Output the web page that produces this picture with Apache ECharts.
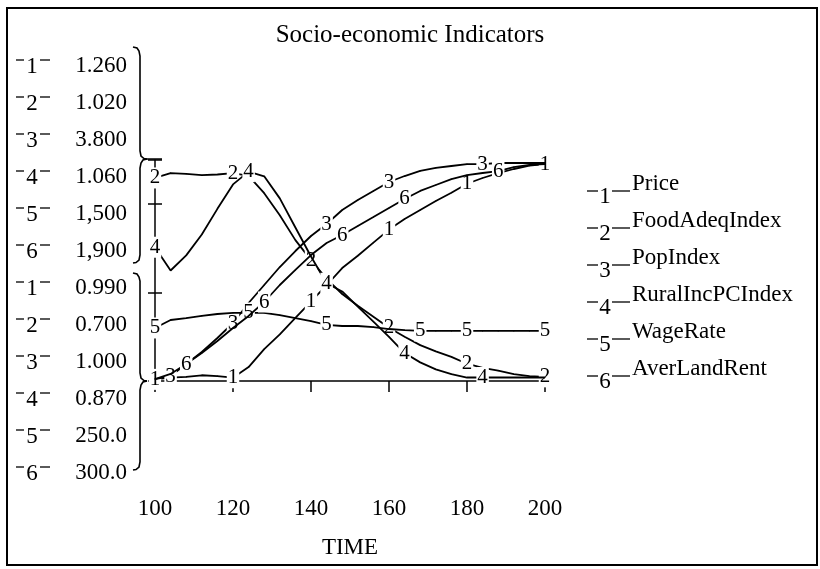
<!DOCTYPE html>
<html>
<head>
<meta charset="utf-8">
<title>Socio-economic Indicators</title>
<script src="https://cdn.jsdelivr.net/npm/echarts@6/dist/echarts.min.js"></script>
<style>
  html, body { margin: 0; padding: 0; background: #fff; }
  #chart { width: 820px; height: 569px; }
</style>
</head>
<body>
<div id="chart"></div>
<script>
// time axis (years), one reading every 4 years
const time = [100, 104, 108, 112, 116, 120, 124, 128, 132, 136, 140, 144, 148,
    152, 156, 160, 164, 168, 172, 176, 180, 184, 188, 192, 196, 200];

const names = ['Price', 'FoodAdeqIndex', 'PopIndex', 'RuralIncPCIndex', 'WageRate', 'AverLandRent'];

// each variable has its own scale (Vensim style)
const scaleMax = [1.26, 1.02, 3.8, 1.06, 1500, 1900];
const scaleMin = [0.99, 0.70, 1.0, 0.87, 250, 300];
const scaleTopText = ['1.260', '1.020', '3.800', '1.060', '1,500', '1,900'];
const scaleBottomText = ['0.990', '0.700', '1.000', '0.870', '250.0', '300.0'];

const price = [0.992, 0.994, 0.995, 0.997, 0.996, 0.994, 1.007, 1.029, 1.047, 1.067, 1.087, 1.107, 1.128,
    1.143, 1.159, 1.175, 1.188, 1.199, 1.210, 1.220, 1.231, 1.238, 1.244, 1.249, 1.253, 1.255];
const foodAdeqIndex = [0.994, 1.001, 1.000, 0.998, 0.999, 1.001, 0.997, 0.972, 0.940, 0.904, 0.875, 0.848, 0.826,
    0.809, 0.793, 0.777, 0.764, 0.752, 0.743, 0.735, 0.725, 0.719, 0.715, 0.710, 0.707, 0.706];
const popIndex = [1.025, 1.063, 1.215, 1.367, 1.545, 1.735, 1.988, 2.216, 2.444, 2.647, 2.837, 2.989, 3.167,
    3.293, 3.407, 3.521, 3.597, 3.661, 3.699, 3.724, 3.749, 3.749, 3.762, 3.762, 3.762, 3.762];
const ruralIncPCIndex = [0.985, 0.965, 0.978, 0.996, 1.018, 1.039, 1.050, 1.046, 1.027, 1.002, 0.977, 0.954, 0.947,
    0.934, 0.921, 0.908, 0.894, 0.886, 0.880, 0.876, 0.873, 0.873, 0.873, 0.873, 0.873, 0.873];
const wageRate = [550, 595, 606, 618, 629, 635, 635, 635, 623, 606, 589, 567, 561,
    561, 555, 544, 538, 533, 533, 533, 533, 533, 533, 533, 533, 533];
const averLandRent = [314, 351, 423, 503, 590, 684, 771, 872, 995, 1104, 1212, 1299, 1357,
    1422, 1487, 1553, 1618, 1676, 1719, 1762, 1791, 1806, 1820, 1849, 1864, 1871];

// where the series number is written on each line
const labelTimes = [
    [100, 120, 140, 160, 180, 200],
    [100, 120, 140, 160, 180, 200],
    [104, 120, 144, 160, 184],
    [100, 124, 144, 164, 184],
    [100, 124, 144, 168, 180, 200],
    [108, 128, 148, 164, 188]
];

const allSeries = [price, foodAdeqIndex, popIndex, ruralIncPCIndex, wageRate, averLandRent];

const FONT = 'Liberation Serif';
const BLACK = '#000';
const FS = 23;

let yAxes = allSeries.map((d, k) => ({
    type: 'value', min: scaleMin[k], max: scaleMax[k], show: false, position: 'left'
}));
// the visible vertical axis, ticks crossing it
yAxes.push({
    type: 'value', min: 0, max: 1, interval: 0.4, position: 'left', offset: 0,
    axisLine: { show: true, lineStyle: { color: BLACK, width: 1.5 } },
    axisTick: { show: true, length: 7, lineStyle: { color: BLACK, width: 1.5 } },
    axisLabel: { show: false }, splitLine: { show: false }
});
yAxes.push({
    type: 'value', min: 0, max: 1, interval: 0.4, position: 'left', offset: 0,
    axisLine: { show: false },
    axisTick: { show: true, inside: true, length: 7, lineStyle: { color: BLACK, width: 1.5 } },
    axisLabel: { show: false }, splitLine: { show: false }
});

let series = allSeries.map((d, k) => ({
    name: names[k],
    type: 'line',
    yAxisIndex: k,
    symbol: 'circle',
    symbolSize: 1,
    showSymbol: true,
    itemStyle: { color: BLACK },
    lineStyle: { color: BLACK, width: 1.8 },
    label: {
        show: false,
        position: 'inside',
        formatter: String(k + 1),
        fontFamily: FONT,
        fontSize: 21,
        color: BLACK,
        backgroundColor: '#fff',
        padding: [0, 1]
    },
    labelLayout: { hideOverlap: false },
    animation: false,
    z: 3 + k,
    data: time.map((t, i) => labelTimes[k].indexOf(t) >= 0
        ? { value: [t, d[i]], label: { show: true } }
        : [t, d[i]])
}));

// left scale labels, legend and brackets
const rowTop = 66, rowGap = 37;
let graphics = [];
const dash = (x1, x2, y) => ({
    type: 'line', shape: { x1: x1, y1: y, x2: x2, y2: y },
    style: { stroke: BLACK, lineWidth: 1.3 }
});
const txt = (s, x, y, align) => ({
    type: 'text', x: x, y: y,
    style: { text: s, font: FS + 'px "' + FONT + '"', fill: BLACK,
        textAlign: align || 'left', textVerticalAlign: 'middle' }
});

for (let r = 0; r < 12; r++) {
    let k = r % 6;
    let y = rowTop + r * rowGap;
    graphics.push(dash(16, 24, y - 6));
    graphics.push(txt(String(k + 1), 32, y + 1, 'center'));
    graphics.push(dash(40, 50, y - 6));
    graphics.push(txt(r < 6 ? scaleTopText[k] : scaleBottomText[k], 127, y, 'right'));
}

const legTop = 184;
names.forEach((n, k) => {
    let y = legTop + k * rowGap;
    graphics.push(dash(587, 598, y + 7));
    graphics.push(txt(String(k + 1), 605, y + 13, 'center'));
    graphics.push(dash(612, 630, y + 7));
    graphics.push(txt(n, 632, y, 'left'));
});

const br = (pts) => ({
    type: 'polyline', shape: { points: pts },
    style: { stroke: BLACK, lineWidth: 1.6, fill: null }
});
graphics.push(br([[133, 47], [137, 48], [139, 51], [140, 56], [140, 151], [141, 156], [144, 158.5], [147, 159], [162, 159]]));
graphics.push(br([[147, 159], [143, 160], [141, 163], [140, 168], [140, 255], [139, 260], [136, 262.5], [133, 263]]));
graphics.push(br([[133, 273], [137, 274], [139, 277], [140, 281], [140, 373], [141, 378], [144, 380.5], [147, 381]]));
graphics.push(br([[147, 381], [143, 382], [141, 385], [140, 390], [140, 462], [139, 467], [136, 469.5], [133, 470]]));

graphics.push({
    type: 'rect', shape: { x: 7, y: 8, width: 810, height: 557 },
    style: { stroke: BLACK, lineWidth: 2, fill: null }
});

const chart = echarts.init(document.getElementById('chart'));
chart.setOption({
    backgroundColor: '#fff',
    animation: false,
    title: {
        text: 'Socio-economic Indicators',
        left: 'center', top: 18,
        textStyle: { fontFamily: FONT, fontSize: 25, fontWeight: 'normal', color: BLACK }
    },
    grid: { left: 155, right: 275, top: 160, bottom: 188 },
    xAxis: {
        type: 'value', min: 100, max: 200, interval: 20,
        axisLine: { lineStyle: { color: BLACK, width: 1.5 } },
        axisTick: { show: true, length: 11, lineStyle: { color: BLACK, width: 1.5 } },
        axisLabel: { margin: 116, fontFamily: FONT, fontSize: FS, color: BLACK },
        splitLine: { show: false },
        name: 'TIME', nameLocation: 'middle', nameGap: 155,
        nameTextStyle: { fontFamily: FONT, fontSize: FS, color: BLACK }
    },
    yAxis: yAxes,
    series: series,
    graphic: graphics
});
</script>
</body>
</html>
